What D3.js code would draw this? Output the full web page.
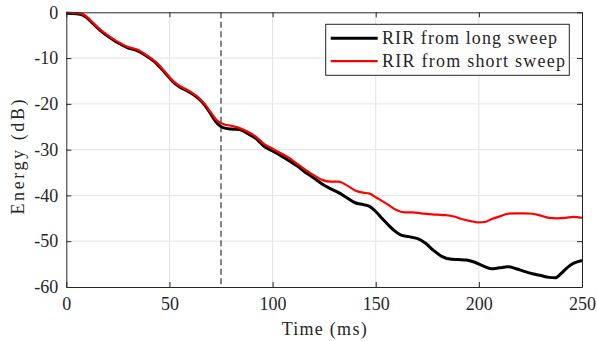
<!DOCTYPE html>
<html>
<head>
<meta charset="utf-8">
<script src="https://cdn.jsdelivr.net/npm/d3@7"></script>
<style>
  body { margin: 0; background: #fff; }
</style>
</head>
<body>
<div id="chart"></div>
<script>
// time (ms) and energy (dB)
const timeLong = [0, 5, 8, 10, 13, 16, 20, 23, 26, 30, 34, 37, 40, 44, 48, 52, 55, 58, 61, 64, 67, 70, 73, 76, 80, 84, 88, 92, 96, 100,
    104, 108, 112, 116, 120, 124, 128, 132, 136, 140, 144, 147, 150, 153, 156, 159, 162, 166, 170, 174, 178, 182, 186, 190, 194, 198,
    202, 206, 210, 214, 218, 222, 226, 230, 234, 237, 240, 243, 246, 250];
const energyLong = [-0.2, -0.3, -0.6, -1.2, -2.5, -3.8, -5.2, -6.1, -6.9, -7.8, -8.3, -9.0, -9.9, -11.3, -13.3, -15.3, -16.3, -17.0, -17.8, -18.8,
    -20.2, -22.2, -24.2, -25.2, -25.5, -25.6, -26.5, -27.6, -29.3, -30.3, -31.3, -32.4, -33.6, -35.0, -36.2, -37.5, -38.5, -39.4, -40.5, -41.6,
    -42.0, -42.4, -43.5, -45.0, -46.4, -47.7, -48.6, -49.0, -49.4, -50.4, -52.0, -53.3, -53.9, -54.0, -54.1, -54.6, -55.4, -56.0, -55.8, -55.6,
    -56.0, -56.6, -57.1, -57.5, -57.9, -58.0, -57.0, -55.7, -54.8, -54.2];

const timeShort = [0, 5, 8, 10, 13, 16, 20, 23, 26, 30, 34, 37, 40, 44, 48, 52, 55, 58, 61, 64, 67, 70, 73, 76, 80, 84, 88, 92, 96, 100,
    104, 108, 112, 116, 120, 124, 128, 132, 136, 140, 144, 147, 150, 153, 156, 160, 164, 168, 172, 176, 180, 184, 188, 192, 196, 200,
    203, 206, 210, 214, 218, 222, 226, 230, 234, 238, 242, 246, 250];
const energyShort = [-0.1, -0.2, -0.4, -1.0, -2.3, -3.6, -5.0, -5.9, -6.7, -7.6, -8.1, -8.8, -9.7, -11.1, -13.1, -15.1, -16.1, -16.8, -17.6, -18.6,
    -20.0, -21.8, -23.6, -24.4, -24.8, -25.3, -26.1, -27.2, -28.8, -29.8, -30.8, -31.8, -33.1, -34.4, -35.6, -36.6, -37.0, -37.0, -37.8, -38.9,
    -39.4, -39.6, -40.4, -41.2, -42.0, -43.2, -43.7, -43.7, -43.9, -44.1, -44.2, -44.3, -44.6, -45.2, -45.6, -45.9, -45.8, -45.2, -44.6, -44.0,
    -43.9, -43.9, -44.0, -44.4, -44.9, -45.0, -44.9, -44.7, -44.9];

const xTicks = [0, 50, 100, 150, 200, 250];
const yTicks = [0, -10, -20, -30, -40, -50, -60];
const markerTime = 75;
const seriesNames = ["RIR from long sweep", "RIR from short sweep"];

const series = [
    { name: seriesNames[0], color: "#000000", width: 3, pts: timeLong.map((t, i) => ({ t, v: energyLong[i] })) },
    { name: seriesNames[1], color: "#ff0000", width: 2.2, pts: timeShort.map((t, i) => ({ t, v: energyShort[i] })) }
];

const serif = "'Liberation Serif', 'Times New Roman', serif";
const width = 597, height = 341;
const margin = { top: 12.3, right: 15, bottom: 54, left: 66.3 };

const svg = d3.select("#chart").append("svg")
    .attr("width", width)
    .attr("height", height);

const x = d3.scaleLinear().domain([0, 250]).range([margin.left, width - margin.right]);
const y = d3.scaleLinear().domain([-60, 0]).range([height - margin.bottom, margin.top]);

// grid
svg.append("g").selectAll("line").data(xTicks.slice(1, -1)).enter().append("line")
    .attr("x1", d => x(d)).attr("x2", d => x(d))
    .attr("y1", y(0)).attr("y2", y(-60))
    .attr("stroke", "#e3e3e3").attr("stroke-width", 1);
svg.append("g").selectAll("line").data(yTicks.slice(1, -1)).enter().append("line")
    .attr("y1", d => y(d)).attr("y2", d => y(d))
    .attr("x1", x(0)).attr("x2", x(250))
    .attr("stroke", "#e3e3e3").attr("stroke-width", 1);

// dashed marker
svg.append("line")
    .attr("x1", x(markerTime)).attr("x2", x(markerTime))
    .attr("y1", y(0)).attr("y2", y(-60))
    .attr("stroke", "#666").attr("stroke-width", 1.6)
    .attr("stroke-dasharray", "6,3.5");

// curves
const line = d3.line()
    .x(d => x(d.t))
    .y(d => y(d.v))
    .curve(d3.curveMonotoneX);

series.forEach(s => {
    svg.append("path")
        .datum(s.pts)
        .attr("fill", "none")
        .attr("stroke", s.color)
        .attr("stroke-width", s.width)
        .attr("stroke-linejoin", "round")
        .attr("d", line);
});

// axes (box with inner ticks on all sides)
const tickLen = 5;
const plain = d => String(d);
const axisStyle = g => {
    g.attr("font-family", serif).attr("font-size", 18);
    g.select(".domain").attr("stroke", "#262626");
    g.selectAll(".tick line").attr("stroke", "#262626");
    g.selectAll(".tick text").attr("fill", "#262626");
};
svg.append("g")
    .attr("transform", `translate(0,${y(-60)})`)
    .call(d3.axisBottom(x).tickValues(xTicks).tickFormat(plain).tickSizeInner(-tickLen).tickSizeOuter(0).tickPadding(10))
    .call(axisStyle);
svg.append("g")
    .attr("transform", `translate(0,${y(0)})`)
    .call(d3.axisTop(x).tickValues(xTicks).tickSizeInner(-tickLen).tickSizeOuter(0).tickFormat(""))
    .call(axisStyle);
svg.append("g")
    .attr("transform", `translate(${x(0)},0)`)
    .call(d3.axisLeft(y).tickValues(yTicks).tickFormat(plain).tickSizeInner(-tickLen).tickSizeOuter(0).tickPadding(8))
    .call(axisStyle);
svg.append("g")
    .attr("transform", `translate(${x(250)},0)`)
    .call(d3.axisRight(y).tickValues(yTicks).tickSizeInner(-tickLen).tickSizeOuter(0).tickFormat(""))
    .call(axisStyle);

// labels
svg.append("text")
    .attr("x", (x(0) + x(250)) / 2)
    .attr("y", 335)
    .attr("text-anchor", "middle")
    .attr("font-family", serif).attr("font-size", 18).attr("fill", "#262626")
    .attr("textLength", 85)
    .attr("lengthAdjust", "spacing")
    .text("Time (ms)");
svg.append("text")
    .attr("transform", `translate(24,157) rotate(-90)`)
    .attr("text-anchor", "middle")
    .attr("font-family", serif).attr("font-size", 18).attr("fill", "#262626")
    .attr("textLength", 115)
    .attr("lengthAdjust", "spacing")
    .text("Energy (dB)");

// legend
const legend = svg.append("g");
legend.append("rect")
    .attr("x", 325.7).attr("y", 24.3)
    .attr("width", 243.6).attr("height", 51)
    .attr("fill", "#fff").attr("stroke", "#262626").attr("stroke-width", 1);
series.forEach((s, i) => {
    const ly = 38.3 + i * 22.8;
    legend.append("line")
        .attr("x1", 330.7).attr("x2", 377.7)
        .attr("y1", ly).attr("y2", ly)
        .attr("stroke", s.color).attr("stroke-width", s.width);
    legend.append("text")
        .attr("x", 382).attr("y", ly + 5.5)
        .attr("font-family", serif).attr("font-size", 18).attr("fill", "#262626")
        .attr("textLength", i === 0 ? 175 : 183)
        .attr("lengthAdjust", "spacing")
        .text(s.name);
});
</script>
</body>
</html>
